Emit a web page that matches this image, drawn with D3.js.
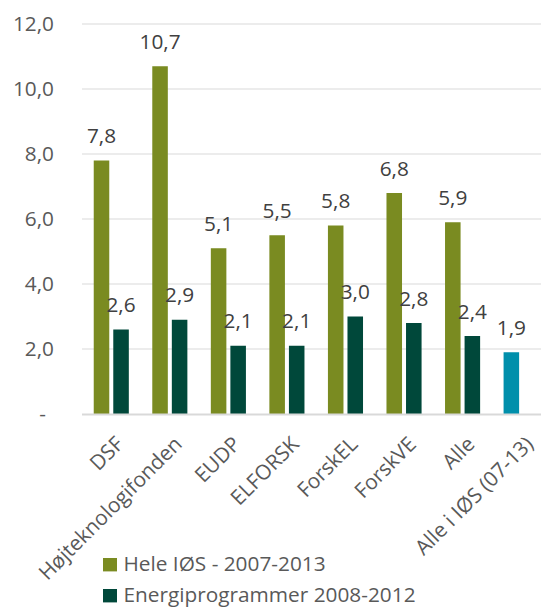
<!DOCTYPE html>
<html>
<head>
<meta charset="utf-8">
<script src="https://cdn.jsdelivr.net/npm/d3@7"></script>
<style>
  html, body { margin: 0; padding: 0; background: #fff; }
  svg { display: block; font-family: "Open Sans", sans-serif; }
</style>
</head>
<body>
<svg id="chart" width="541" height="608"></svg>
<script>
const categories = ["DSF", "Højteknologifonden", "EUDP", "ELFORSK", "ForskEL", "ForskVE", "Alle", "Alle i IØS (07-13)"];
const seriesNames = ["Hele IØS - 2007-2013", "Energiprogrammer 2008-2012"];
const heleIOS = [7.8, 10.7, 5.1, 5.5, 5.8, 6.8, 5.9, 1.9];
const energiprogrammer = [2.6, 2.9, 2.1, 2.1, 3.0, 2.8, 2.4, null];
const yTicks = [0, 2, 4, 6, 8, 10, 12];
const yTickLabels = ["-", "2,0", "4,0", "6,0", "8,0", "10,0", "12,0"];
const seriesColors = ["#7a8b21", "#00483a"];
const highlightColor = "#008fab"; // last point of first series

const svg = d3.select("#chart");
const W = 541, H = 608;
const plotLeft = 82, plotRight = 550.4, plotTop = 24, plotBottom = 414;
const textColor = "#595959";
const fontSize = 20.8;

const y = d3.scaleLinear().domain([0, 12]).range([plotBottom, plotTop]);
const x0 = d3.scaleBand().domain(categories).range([plotLeft, plotRight]).paddingInner(0).paddingOuter(0);
const x1 = d3.scaleBand().domain(seriesNames).range([0, x0.bandwidth()]).paddingInner(0.205).paddingOuter(0.6);

const fmt = v => d3.format(".1f")(v).replace(".", ",");

// gridlines
svg.append("g").selectAll("line").data(yTicks.filter(t => t > 0)).join("line")
  .attr("x1", plotLeft).attr("x2", W)
  .attr("y1", d => y(d)).attr("y2", d => y(d))
  .attr("stroke", "#d9d9d9").attr("stroke-width", 1.2);

// y axis labels
const yAxis = d3.axisLeft(y).tickValues(yTicks).tickSize(0).tickPadding(0)
  .tickFormat((d, i) => yTickLabels[i]);
const gy = svg.append("g").attr("transform", `translate(${plotLeft - 28},0)`).call(yAxis);
gy.select(".domain").remove();
gy.selectAll("text")
  .attr("fill", textColor).style("font-size", fontSize + "px").style("font-family", '"Open Sans", sans-serif')
  .attr("dx", d => d === 0 ? -8 : 0);

// data rows
const rows = categories.map((c, i) => ({
  cat: c,
  vals: [
    { s: seriesNames[0], v: heleIOS[i], color: i === categories.length - 1 ? highlightColor : seriesColors[0] },
    { s: seriesNames[1], v: energiprogrammer[i], color: seriesColors[1] }
  ].filter(d => d.v !== null)
}));

const groups = svg.append("g").selectAll("g").data(rows).join("g")
  .attr("transform", d => `translate(${x0(d.cat)},0)`);

groups.selectAll("rect").data(d => d.vals).join("rect")
  .attr("x", d => x1(d.s))
  .attr("width", x1.bandwidth())
  .attr("y", d => y(d.v))
  .attr("height", d => y(0) - y(d.v))
  .attr("fill", d => d.color);

groups.selectAll("text").data(d => d.vals).join("text")
  .attr("x", d => x1(d.s) + x1.bandwidth() / 2)
  .attr("y", d => y(d.v) - 17.5)
  .attr("text-anchor", "middle")
  .attr("fill", "#404040")
  .style("font-size", fontSize + "px")
  .text(d => fmt(d.v));

// x axis baseline
svg.append("line")
  .attr("x1", plotLeft).attr("x2", W)
  .attr("y1", plotBottom + 0.5).attr("y2", plotBottom + 0.5)
  .attr("stroke", "#d9d9d9").attr("stroke-width", 1.8);

// x axis labels
svg.append("g").selectAll("text").data(categories).join("text")
  .attr("transform", c => `translate(${x0(c) + x0.bandwidth() / 2 + 3},${plotBottom + 21}) rotate(-45)`)
  .attr("text-anchor", "end")
  .attr("dy", "0.71em")
  .attr("fill", textColor)
  .style("font-size", fontSize + "px")
  .text(d => d);

// legend
const legend = svg.append("g").attr("transform", "translate(103,558)");
const li = legend.selectAll("g").data(seriesNames).join("g")
  .attr("transform", (d, i) => `translate(0,${i * 31})`);
li.append("rect").attr("width", 14).attr("height", 13.4).attr("fill", (d, i) => seriesColors[i]);
li.append("text").attr("x", 20.5).attr("y", 13.2).attr("fill", textColor)
  .style("font-size", fontSize + "px").text(d => d);
</script>
</body>
</html>
